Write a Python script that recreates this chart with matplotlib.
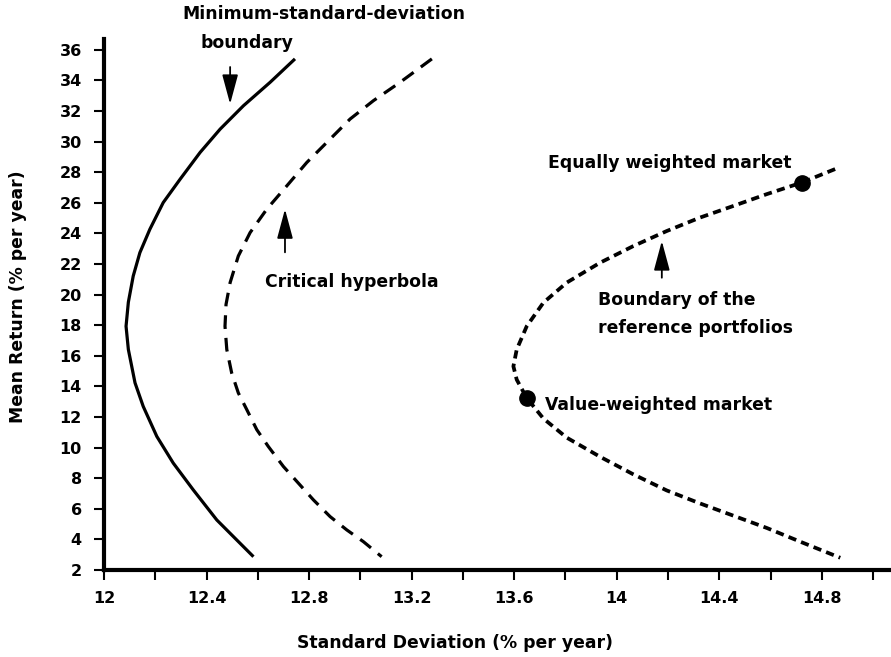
#!/usr/bin/env python

import matplotlib
matplotlib.use('Agg')
import matplotlib.pyplot as plt
from matplotlib.ticker import MultipleLocator, FixedLocator

# values: (std dev, mean return) in % per year
min_sd_sigma = [12.745, 12.648, 12.544, 12.453, 12.375, 12.297, 12.231, 12.179, 12.140,
                12.114, 12.095, 12.086, 12.095, 12.121, 12.153, 12.206, 12.270, 12.348,
                12.440, 12.518, 12.583]
min_sd_mu = [35.40, 33.87, 32.34, 30.81, 29.29, 27.54, 26.01, 24.27, 22.74,
             21.21, 19.50, 17.93, 16.41, 14.23, 12.69, 10.73, 8.99, 7.24,
             5.27, 3.96, 2.87]

crit_sigma = [13.279, 13.155, 13.051, 12.960, 12.869, 12.791, 12.713, 12.635, 12.570,
              12.524, 12.492, 12.476, 12.472, 12.479, 12.498, 12.524, 12.557, 12.596,
              12.641, 12.700, 12.758, 12.817, 12.882, 12.947, 13.012, 13.083]
crit_mu = [35.40, 33.87, 32.67, 31.47, 29.94, 28.63, 27.10, 25.58, 24.05,
           22.52, 20.78, 19.35, 17.93, 16.41, 14.88, 13.57, 12.48, 11.17,
           10.07, 8.76, 7.68, 6.58, 5.49, 4.62, 3.85, 2.87]

ref_sigma = [14.852, 14.722, 14.585, 14.455, 14.325, 14.195, 14.065, 13.935, 13.805,
             13.714, 13.649, 13.610, 13.597, 13.610, 13.649, 13.714, 13.805, 13.935,
             14.065, 14.195, 14.325, 14.455, 14.585, 14.716, 14.872]
ref_mu = [28.20, 27.32, 26.56, 25.79, 25.03, 24.15, 23.17, 22.08, 20.78,
          19.47, 17.93, 16.41, 15.31, 14.44, 13.24, 11.90, 10.65, 9.40,
          8.25, 7.20, 6.35, 5.55, 4.75, 3.85, 2.80]

markets = ['Equally weighted market', 'Value-weighted market']
market_sigma = [14.722, 13.652]
market_mu = [27.32, 13.22]

x_ticks = [12, 12.4, 12.8, 13.2, 13.6, 14, 14.4, 14.8]
x_tick_labels = ['12', '12.4', '12.8', '13.2', '13.6', '14', '14.4', '14.8']
y_ticks = list(range(2, 37, 2))

W, H = 891, 657
FONT = 'DejaVu Sans'


def fx(px):
    return px / W


def fy(py):
    return 1 - py / H


fig = plt.figure(figsize=(W / 100, H / 100), dpi=100)
ax = fig.add_axes([fx(104), fy(570), 1 - fx(104), fy(39) - fy(570)])

ax.plot(min_sd_sigma, min_sd_mu, color='black', linewidth=2.3,
        solid_capstyle='butt', solid_joinstyle='round')
ax.plot(crit_sigma, crit_mu, color='black', linewidth=2.3, dashes=(4.3, 2.8))
ax.plot(ref_sigma, ref_mu, color='black', linewidth=2.7, dashes=(2.2, 1.4))
ax.plot(market_sigma, market_mu, 'o', color='black', markersize=11)

ax.set_xlim(12, 15.07)
ax.set_ylim(2, 36.7)

for side in ['top', 'right']:
    ax.spines[side].set_visible(False)
for side in ['left', 'bottom']:
    ax.spines[side].set_linewidth(3.0)

ax.xaxis.set_major_locator(FixedLocator(x_ticks))
ax.set_xticklabels(x_tick_labels)
ax.xaxis.set_minor_locator(MultipleLocator(0.2))
ax.yaxis.set_major_locator(FixedLocator(y_ticks))
ax.set_yticklabels([str(v) for v in y_ticks])

ax.tick_params(axis='both', which='both', direction='out', length=7, width=1.5)
ax.tick_params(axis='x', which='major', pad=8)
ax.tick_params(axis='y', which='major', pad=9)
for lab in ax.get_xticklabels() + ax.get_yticklabels():
    lab.set_fontfamily(FONT)
    lab.set_fontweight('bold')
    lab.set_fontsize(11.5)

label_kw = dict(fontfamily=FONT, fontweight='bold', fontsize=12.4)
fig.text(fx(455), fy(643), 'Standard Deviation (% per year)', ha='center', va='center', **label_kw)
fig.text(fx(18), fy(297), 'Mean Return (% per year)', ha='center', va='center',
         rotation=90, **label_kw)

note_kw = dict(fontfamily=FONT, fontweight='bold', fontsize=12.4, va='center')
fig.text(fx(182), fy(14), 'Minimum-standard-deviation', ha='left', **note_kw)
fig.text(fx(200), fy(43), 'boundary', ha='left', **note_kw)
fig.text(fx(265), fy(282), 'Critical hyperbola', ha='left', **note_kw)
fig.text(fx(548), fy(163), 'Equally weighted market', ha='left', **note_kw)
fig.text(fx(598), fy(300), 'Boundary of the', ha='left', **note_kw)
fig.text(fx(598), fy(328), 'reference portfolios', ha='left', **note_kw)
fig.text(fx(545), fy(405), 'Value-weighted market', ha='left', **note_kw)

arrow_kw = dict(arrowstyle='-|>,head_length=1.3,head_width=0.35', color='black',
                lw=1.3, mutation_scale=14, shrinkA=0, shrinkB=0)
ax.annotate('', xy=(12.492, 32.45), xytext=(12.492, 34.87), arrowprops=arrow_kw)
ax.annotate('', xy=(12.706, 25.58), xytext=(12.706, 22.76), arrowprops=arrow_kw)
ax.annotate('', xy=(14.176, 23.50), xytext=(14.176, 21.10), arrowprops=arrow_kw)

fig.savefig('out.png', dpi=100)
plt.close()
